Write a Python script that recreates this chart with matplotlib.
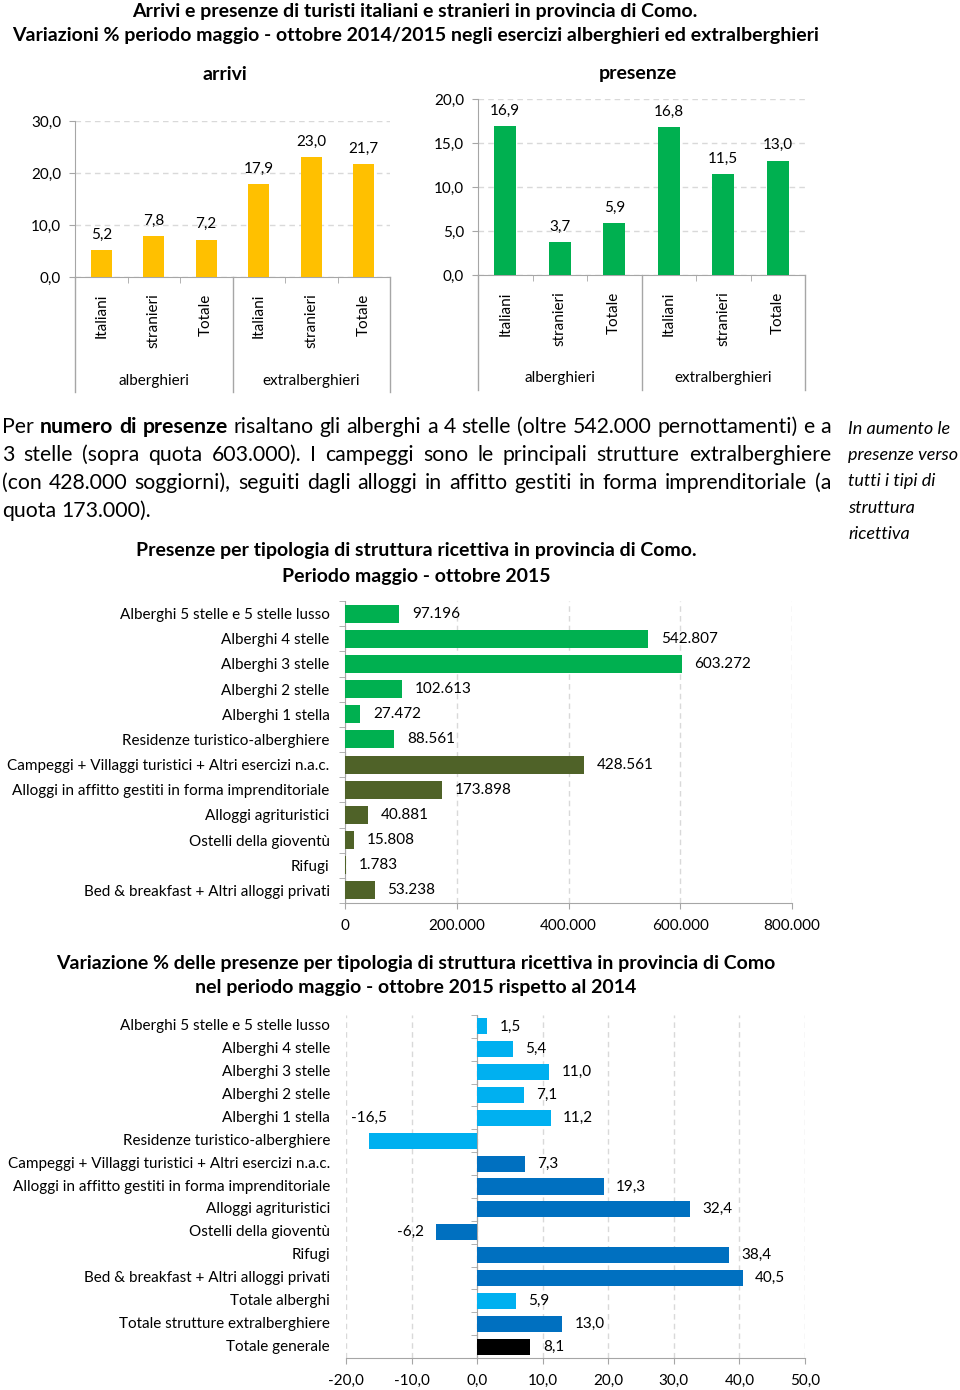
import matplotlib
matplotlib.use('Agg')
import matplotlib.pyplot as plt
import numpy as np

plt.rcParams['font.family'] = ['Lato', 'DejaVu Sans']

# ---------------- data ----------------
sub_cats = ['Italiani', 'stranieri', 'Totale']
groups = ['alberghieri', 'extralberghieri']
arrivi_var = [5.2, 7.8, 7.2, 17.9, 23.0, 21.7]
presenze_var = [16.9, 3.7, 5.9, 16.8, 11.5, 13.0]

tipologie = ['Alberghi 5 stelle e 5 stelle lusso', 'Alberghi 4 stelle', 'Alberghi 3 stelle',
             'Alberghi 2 stelle', 'Alberghi 1 stella', 'Residenze turistico-alberghiere',
             'Campeggi + Villaggi turistici + Altri esercizi n.a.c.',
             'Alloggi in affitto gestiti in forma imprenditoriale', 'Alloggi agrituristici',
             'Ostelli della gioventù', 'Rifugi', 'Bed & breakfast + Altri alloggi privati']
presenze_2015 = [97196, 542807, 603272, 102613, 27472, 88561, 428561, 173898, 40881, 15808, 1783, 53238]
tipo_gruppo = ['alb'] * 6 + ['extra'] * 6

var_labels = tipologie + ['Totale alberghi', 'Totale strutture extralberghiere', 'Totale generale']
var_values = [1.5, 5.4, 11.0, 7.1, 11.2, -16.5, 7.3, 19.3, 32.4, -6.2, 38.4, 40.5, 5.9, 13.0, 8.1]
var_gruppo = ['alb'] * 6 + ['extra'] * 6 + ['alb', 'extra', 'tot']

# ---------------- style ----------------
W, H = 960, 1390
GRAY = '#A6A6A6'
GRID = '#D9D9D9'
FS = 11
TFS = 14
fig = plt.figure(figsize=(W / 100, H / 100), dpi=100)


def axes_px(l, t, r, b):
    return fig.add_axes([l / W, 1 - b / H, (r - l) / W, (b - t) / H])


def ftext(x, y, s, **kw):
    return fig.text(x / W, 1 - y / H, s, **kw)


def fmt1(v):
    return f"{v:.1f}".replace('.', ',')


def fmtk(v):
    return f"{int(v):,}".replace(',', '.')


# ---------------- titles ----------------
ftext(415, 12, 'Arrivi e presenze di turisti italiani e stranieri in provincia di Como.',
      ha='center', va='center', fontsize=TFS, fontweight='bold')
ftext(416, 36, 'Variazioni % periodo maggio - ottobre 2014/2015 negli esercizi alberghieri ed extralberghieri',
      ha='center', va='center', fontsize=TFS, fontweight='bold')


def top_chart(l, t, r, b, values, ymax, ystep, color, title, title_xy, group_y, sep_y):
    ax = axes_px(l, t, r, b)
    x = np.arange(len(values))
    ax.bar(x, values, width=0.4, color=color, zorder=3)
    ax.set_xlim(-0.5, 5.5)
    ax.set_ylim(0, ymax)
    ticks = np.arange(0, ymax + 0.01, ystep)
    ax.set_yticks(ticks)
    ax.set_yticklabels([fmt1(v) for v in ticks])
    ax.yaxis.grid(True, linestyle=(0, (4, 3)), color=GRID, lw=1)
    ax.set_axisbelow(True)
    for s in ['top', 'right']:
        ax.spines[s].set_visible(False)
    for s in ['left', 'bottom']:
        ax.spines[s].set_color(GRAY)
    ax.tick_params(axis='y', length=4, color=GRAY, labelsize=FS, pad=6)
    ax.set_xticks(x)
    ax.set_xticklabels(sub_cats * 2, rotation=90, fontsize=FS)
    ax.tick_params(axis='x', which='major', length=0, pad=12)
    ax.set_xticks(np.arange(-0.5, 6, 1), minor=True)
    ax.tick_params(axis='x', which='minor', length=4, color=GRAY)
    hpx = b - t
    trans = ax.get_xaxis_transform()
    for xs in [-0.5, 2.5, 5.5]:
        ax.plot([xs, xs], [0, -(sep_y - b) / hpx], transform=trans, clip_on=False, color=GRAY, lw=1)
    for gi, g in enumerate(groups):
        ax.text(gi * 3 + 1, -(group_y - b) / hpx, g, transform=trans, ha='center', va='center', fontsize=FS)
    for xi, v in zip(x, values):
        ax.annotate(fmt1(v), (xi, v), xytext=(0, 6), textcoords='offset points',
                    ha='center', va='bottom', fontsize=FS)
    ftext(title_xy[0], title_xy[1], title, ha='center', va='center', fontsize=TFS, fontweight='bold')
    return ax


top_chart(75, 121, 390, 277, arrivi_var, 30, 10, '#FFC000', 'arrivi', (225, 74), 381, 392)
top_chart(478, 99, 805, 275, presenze_var, 20, 5, '#00B050', 'presenze', (638, 74), 378, 390)

# ---------------- paragraph (justified) ----------------
renderer = fig.canvas.get_renderer()
PFS = 15.3
para_lines = [
    [('Per', 'normal'), ('numero di presenze', 'bold'), ('risaltano gli alberghi a 4 stelle (oltre 542.000 pernottamenti) e a', 'normal')],
    [('3 stelle (sopra quota 603.000). I campeggi sono le principali strutture extralberghiere', 'normal')],
    [('(con 428.000 soggiorni), seguiti dagli alloggi in affitto gestiti in forma imprenditoriale (a', 'normal')],
    [('quota 173.000).', 'normal')],
]
line_ys = [427, 455, 483, 511]
X0, X1 = 2, 831
for li, (segs, ly) in enumerate(zip(para_lines, line_ys)):
    words = []
    for s, w in segs:
        for word in s.split(' '):
            words.append((word, w))
    objs = []
    widths = []
    for word, w in words:
        t = ftext(0, ly, word, ha='left', va='center', fontsize=PFS, fontweight=w)
        widths.append(t.get_window_extent(renderer).width)
        objs.append(t)
    space = ftext(0, ly, 'a a', fontsize=PFS)
    sw = space.get_window_extent(renderer).width
    aa = ftext(0, ly, 'aa', fontsize=PFS)
    sw -= aa.get_window_extent(renderer).width
    space.remove(); aa.remove()
    if li < len(para_lines) - 1:
        gap = (X1 - X0 - sum(widths)) / (len(words) - 1)
    else:
        gap = sw
    xc = X0
    for t, wd in zip(objs, widths):
        t.set_x(xc / W)
        xc += wd + gap

side = ['In aumento le', 'presenze verso', 'tutti i tipi di', 'struttura', 'ricettiva']
for i, s in enumerate(side):
    ftext(848, 429 + i * 26.2, s, ha='left', va='center', fontsize=13, fontstyle='italic')

# ---------------- middle chart ----------------
ftext(416, 551, 'Presenze per tipologia di struttura ricettiva in provincia di Como.',
      ha='center', va='center', fontsize=TFS, fontweight='bold')
ftext(416, 576, 'Periodo maggio - ottobre 2015', ha='center', va='center', fontsize=TFS, fontweight='bold')

ax2 = axes_px(345, 601, 792, 903)
y2 = np.arange(len(presenze_2015))
col2 = ['#00B050' if g == 'alb' else '#4F6228' for g in tipo_gruppo]
ax2.barh(y2, presenze_2015, height=0.72, color=col2, zorder=3)
ax2.set_ylim(len(y2) - 0.5, -0.5)
ax2.set_xlim(0, 800000)
xt = np.arange(0, 800001, 200000)
ax2.set_xticks(xt)
ax2.set_xticklabels([fmtk(v) for v in xt], fontsize=FS)
ax2.xaxis.grid(True, linestyle=(0, (4, 3)), color=GRID, lw=1)
ax2.set_axisbelow(True)
ax2.set_yticks(y2)
ax2.set_yticklabels(tipologie, fontsize=FS)
ax2.tick_params(axis='y', which='major', length=0, pad=11)
ax2.set_yticks(np.arange(-0.5, len(y2), 1), minor=True)
ax2.tick_params(axis='y', which='minor', length=4, color=GRAY)
ax2.tick_params(axis='x', length=4, color=GRAY, pad=7.5)
for s in ['top', 'right']:
    ax2.spines[s].set_visible(False)
for s in ['left', 'bottom']:
    ax2.spines[s].set_color(GRAY)
for yi, v in zip(y2, presenze_2015):
    ax2.annotate(fmtk(v), (v, yi), xytext=(9, 0), textcoords='offset points',
                 ha='left', va='center', fontsize=FS)

# ---------------- bottom chart ----------------
ftext(416, 963, 'Variazione % delle presenze per tipologia di struttura ricettiva in provincia di Como',
      ha='center', va='center', fontsize=TFS, fontweight='bold')
ftext(416, 988, 'nel periodo maggio - ottobre 2015 rispetto al 2014',
      ha='center', va='center', fontsize=TFS, fontweight='bold')

ax3 = axes_px(346, 1015, 805, 1358)
y3 = np.arange(len(var_values))
cmap3 = {'alb': '#00B0F0', 'extra': '#0070C0', 'tot': '#000000'}
ax3.barh(y3, var_values, height=0.7, color=[cmap3[g] for g in var_gruppo], zorder=3)
ax3.set_ylim(len(y3) - 0.5, -0.5)
ax3.set_xlim(-20, 50)
xt3 = np.arange(-20, 51, 10)
ax3.set_xticks(xt3)
ax3.set_xticklabels([fmt1(v) for v in xt3], fontsize=FS)
ax3.xaxis.grid(True, linestyle=(0, (4, 3)), color=GRID, lw=1)
ax3.set_axisbelow(True)
ax3.spines['left'].set_position(('data', 0))
for s in ['top', 'right']:
    ax3.spines[s].set_visible(False)
for s in ['left', 'bottom']:
    ax3.spines[s].set_color(GRAY)
ax3.set_yticks(y3)
ax3.tick_params(axis='y', which='major', length=0, labelleft=False)
ax3.set_yticks(np.arange(-0.5, len(y3), 1), minor=True)
ax3.tick_params(axis='y', which='minor', length=4, color=GRAY)
ax3.tick_params(axis='x', length=4, color=GRAY, pad=7.5)
ytr = ax3.get_yaxis_transform()
for yi, lab in zip(y3, var_labels):
    ax3.text(-16 / 459, yi, lab, transform=ytr, ha='right', va='center', fontsize=FS)
for yi, v in zip(y3, var_values):
    if v >= 0:
        ax3.annotate(fmt1(v), (v, yi), xytext=(9, 0), textcoords='offset points',
                     ha='left', va='center', fontsize=FS)
    elif v < -10:
        ax3.annotate(fmt1(v), (v, yi - 1), xytext=(0, 0), textcoords='offset points',
                     ha='center', va='center', fontsize=FS)
    else:
        ax3.annotate(fmt1(v), (v, yi), xytext=(-9, 0), textcoords='offset points',
                     ha='right', va='center', fontsize=FS)

fig.savefig('out.png', dpi=100)
